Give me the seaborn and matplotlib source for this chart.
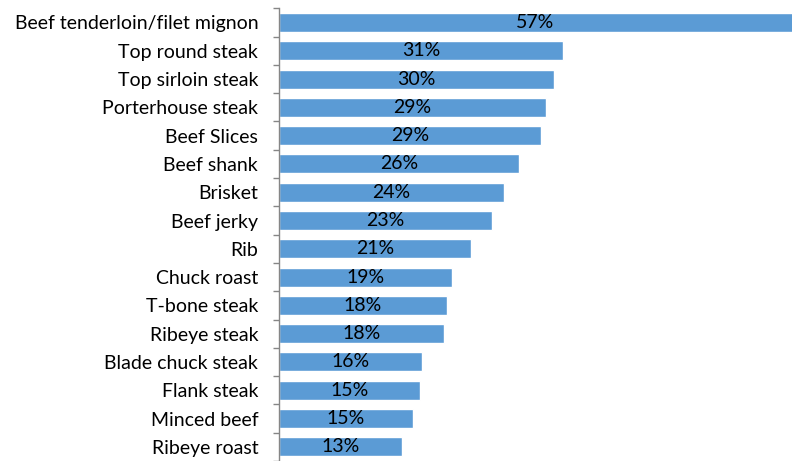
import matplotlib.pyplot as plt
import numpy as np
import pandas as pd
import seaborn as sns
from matplotlib.ticker import FixedLocator

# Data (bar lengths in %, labels are rounded)
cuts = [
    "Beef tenderloin/filet mignon",
    "Top round steak",
    "Top sirloin steak",
    "Porterhouse steak",
    "Beef Slices",
    "Beef shank",
    "Brisket",
    "Beef jerky",
    "Rib",
    "Chuck roast",
    "T-bone steak",
    "Ribeye steak",
    "Blade chuck steak",
    "Flank steak",
    "Minced beef",
    "Ribeye roast",
]
shares = [56.6, 30.9, 30.0, 29.1, 28.6, 26.1, 24.5, 23.2,
          20.9, 18.8, 18.3, 18.0, 15.6, 15.4, 14.6, 13.4]

df = pd.DataFrame({"cut": cuts, "share": shares})

sns.set_theme(style="white")
plt.rcParams["font.family"] = ["Lato", "DejaVu Sans"]

fig = plt.figure(figsize=(7.92, 4.61), dpi=100)
ax = fig.add_axes([279 / 792, 0.0, 1 - 279 / 792, 1 - 8.3 / 461])

sns.barplot(data=df, x="share", y="cut", orient="h", color="#5B9BD5",
            saturation=1, width=0.67, ax=ax)

ax.bar_label(ax.containers[0], labels=[f"{v:.0f}%" for v in shares],
             label_type="center", fontsize=14, color="black")

ax.set_xlim(0, 55.9)
ax.set_ylim(len(cuts) - 0.5, -0.5)
ax.set_xlabel("")
ax.set_ylabel("")
ax.set_xticks([])

for side in ["top", "right", "bottom"]:
    ax.spines[side].set_visible(False)
ax.spines["left"].set_color("#868686")
ax.spines["left"].set_linewidth(1)

ax.tick_params(axis="y", which="major", length=0, pad=15, labelsize=14,
               labelcolor="black")
ax.yaxis.set_minor_locator(FixedLocator(np.arange(-0.5, len(cuts), 1.0)))
ax.tick_params(axis="y", which="minor", length=4.5, width=1, color="#868686",
               direction="out", left=True)

fig.savefig("out.png", dpi=100)
